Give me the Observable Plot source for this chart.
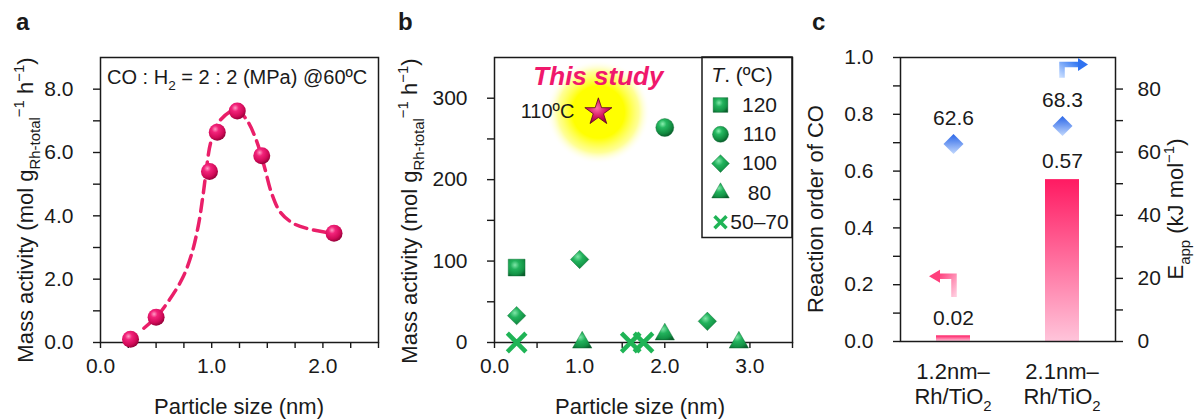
<!DOCTYPE html>
<html><head><meta charset="utf-8">
<script src="https://cdn.jsdelivr.net/npm/d3@7"></script>
<script src="https://cdn.jsdelivr.net/npm/@observablehq/plot@0.6"></script>
<style>
html,body{margin:0;padding:0;background:#fff}
#wrap{position:relative;width:1195px;height:419px;overflow:hidden;background:#fff}
#wrap > div{position:absolute;top:0}
svg{overflow:visible}
</style></head>
<body><div id="wrap"></div>
<script>
// ---------------- data ----------------
// panel a
const aSize = [0.27, 0.50, 0.98, 1.05, 1.23, 1.45, 2.10];
const aActivity = [0.10, 0.80, 5.40, 6.64, 7.31, 5.90, 3.45];
const aFitSize = [0.39, 0.50, 0.62, 0.74, 0.82, 0.88, 0.92, 0.95, 0.99, 1.06, 1.22, 1.32, 1.40, 1.47, 1.54, 1.62, 1.74, 1.88, 2.03];
const aFitActivity = [0.45, 0.80, 1.35, 2.05, 2.80, 3.70, 4.60, 5.40, 6.30, 6.95, 7.35, 7.00, 6.40, 5.60, 4.70, 4.10, 3.75, 3.58, 3.48];
const aXTicks = [0, 0.25, 0.5, 0.75, 1, 1.25, 1.5, 1.75, 2, 2.25, 2.5];
const aYTicks = [0, 1, 2, 3, 4, 5, 6, 7, 8];
const aNote = ["CO : H", {t: "2", sub: true}, " = 2 : 2 (MPa) @60ºC"];

// panel b
const bTemp = ["120", "100", "50–70", "100", "80", "50–70", "50–70", "80", "110", "100", "80"];
const bSize = [0.26, 0.26, 0.26, 1.00, 1.03, 1.60, 1.75, 2.00, 2.00, 2.50, 2.87];
const bActivity = [92, 33, 0, 102, 0, 0, 0, 10, 264, 26, 0];
const bLegendTemp = ["120", "110", "100", "80", "50–70"];
const bLegendSymbol = ["square", "circle", "diamond2", "triangle", "times"];
const studySize = [1.22];
const studyActivity = [283];
const studyLabel = ["110ºC"];
const studyTitle = "This study";
const bXTicks = [0, 0.5, 1, 1.5, 2, 2.5, 3, 3.5];
const bYTicks = [0, 50, 100, 150, 200, 250, 300];

// panel c
const cCatalyst = ["1.2nm–Rh/TiO2", "2.1nm–Rh/TiO2"];
const cCatalystLines = [["1.2nm–", ["Rh/TiO", {t: "2", sub: true}]], ["2.1nm–", ["Rh/TiO", {t: "2", sub: true}]]];
const cOrder = [0.02, 0.57];
const cEapp = [62.6, 68.3];
const cLeftTicks = [0, 0.1, 0.2, 0.3, 0.4, 0.5, 0.6, 0.7, 0.8, 0.9, 1.0];
const cRightTicks = [0, 10, 20, 30, 40, 50, 60, 70, 80];
const E_MAX = 90;

// ---------------- helpers ----------------
const FONT = "'Liberation Sans', Arial, Helvetica, sans-serif";
const INK = "#1a1a1a";
const PINK = "#ea1f69";
const GREEN_X = "#1fb456";
const wrap = document.getElementById("wrap");
const isInt = v => Math.abs(v - Math.round(v)) < 1e-9;
const baseStyle = {fontFamily: FONT, fontSize: "21px", color: INK, background: "transparent", overflow: "visible"};

function mount(node, left) {
  const d = document.createElement("div");
  d.style.left = left + "px";
  d.appendChild(node);
  wrap.appendChild(d);
  return node;
}
function defsOf(svg) {
  let d = d3.select(svg).select("defs.custom");
  if (d.empty()) d = d3.select(svg).insert("defs", ":first-child").attr("class", "custom");
  return d;
}
function addStops(g, stops) {
  for (const [o, c, op = 1] of stops) g.append("stop").attr("offset", o).attr("stop-color", c).attr("stop-opacity", op);
}
function radial(svg, id, stops, cx = 0.38, cy = 0.32, r = 0.72) {
  addStops(defsOf(svg).append("radialGradient").attr("id", id).attr("cx", cx).attr("cy", cy).attr("r", r), stops);
}
function linear(svg, id, stops, x1, y1, x2, y2) {
  addStops(defsOf(svg).append("linearGradient").attr("id", id)
    .attr("x1", x1).attr("y1", y1).attr("x2", x2).attr("y2", y2), stops);
}
function rich(svg, x, y, parts, o = {}) {
  const size = o.size ?? 22;
  const t = d3.select(svg).append("text")
    .attr("transform", `translate(${x},${y})` + (o.rotate ? ` rotate(${o.rotate})` : ""))
    .attr("text-anchor", o.anchor ?? "middle")
    .attr("font-family", FONT).attr("font-size", size)
    .attr("font-weight", o.weight ?? "normal")
    .attr("fill", o.fill ?? INK);
  let cur = 0;
  for (const p of parts) {
    const s = typeof p === "string" ? {t: p} : p;
    const target = s.sub ? 0.3 * size : s.sup ? -0.4 * size : 0;
    const ts = t.append("tspan").attr("font-size", (s.sub || s.sup) ? 0.68 * size : size).text(s.t);
    if (target !== cur) ts.attr("dy", target - cur);
    if (s.italic) ts.attr("font-style", "italic");
    cur = target;
  }
  return t;
}
const massTitle = ["Mass activity (mol g", {t: "Rh-total", sub: true}, {t: "−1", sup: true}, " h", {t: "−1", sup: true}, ")"];
const sizeTitle = ["Particle size (nm)"];

// ---------------- panel a ----------------
const aPoints = aSize.map((x, i) => ({x, y: aActivity[i]}));
const aFit = aFitSize.map((x, i) => ({x, y: aFitActivity[i]}));
const plotA = Plot.plot({
  width: 390, height: 419, marginLeft: 100, marginRight: 12, marginTop: 57, marginBottom: 77,
  style: baseStyle,
  x: {domain: [0, 2.5]},
  y: {domain: [0, 9]},
  marks: [
    Plot.axisX({ticks: aXTicks, tickFormat: d => isInt(d) ? d.toFixed(1) : "", tickSize: 6, tickPadding: 10, strokeWidth: 1.4, fontSize: 21, label: null}),
    Plot.axisY({ticks: aYTicks, tickFormat: d => d % 2 === 0 ? d.toFixed(1) : "", tickSize: 7, tickPadding: 20, strokeWidth: 1.4, fontSize: 21, label: null}),
    Plot.frame({stroke: INK, strokeWidth: 1.5}),
    Plot.line(aFit, {x: "x", y: "y", curve: "catmull-rom", stroke: PINK, strokeWidth: 3.5, strokeDasharray: "12,7"}),
    Plot.dot(aPoints, {x: "x", y: "y", r: 8.5, fill: "url(#gPinkSphere)"})
  ]
});
mount(plotA, 0);
radial(plotA, "gPinkSphere", [[0, "#ff9cc4"], [0.28, "#f2237a"], [0.7, "#d10a58"], [1, "#8c0035"]]);
rich(plotA, 33, 210, massTitle, {rotate: -90});
rich(plotA, 239, 414, sizeTitle);
rich(plotA, 107, 84, aNote, {anchor: "start", size: 20});
rich(plotA, 16, 30, ["a"], {anchor: "start", size: 24, weight: "bold"});

// ---------------- panel b ----------------
const bPoints = bSize.map((x, i) => ({x, y: bActivity[i], T: bTemp[i]}));
const symbolFor = Object.fromEntries(bLegendTemp.map((t, i) => [t, bLegendSymbol[i]]));
const chartR = {square: 9.5, circle: 9, diamond2: 8.3, triangle: 7.2, times: 8.5};
const legendR = {square: 8.3, circle: 8, diamond2: 8, triangle: 6.5, times: 5.5};
function symbolStyle(sym, r) {
  return sym === "times"
    ? {symbol: sym, r, fill: "none", stroke: GREEN_X, strokeWidth: r > 7 ? 4.5 : 3.5}
    : {symbol: sym, r, fill: sym === "circle" ? "url(#gGreenBall)" : "url(#gGreen)", stroke: "#0d6b32", strokeWidth: 0.4};
}
const study = studySize.map((x, i) => ({x, y: studyActivity[i], label: studyLabel[i]}));
const legendY0 = 47.5, legendGap = 29.3;
const plotB = Plot.plot({
  width: 410, height: 419, marginLeft: 104, marginRight: 8, marginTop: 57, marginBottom: 77,
  style: baseStyle,
  x: {domain: [0, 3.5]},
  y: {domain: [0, 350]},
  marks: [
    Plot.dot(study, {x: "x", y: "y", r: 52, fill: "url(#gGlow)"}),
    Plot.axisX({ticks: bXTicks, tickFormat: d => isInt(d) ? d.toFixed(1) : "", tickSize: 6, tickPadding: 10, strokeWidth: 1.4, fontSize: 21, label: null}),
    Plot.axisY({ticks: bYTicks, tickFormat: d => d % 100 === 0 ? String(d) : "", tickSize: 7, tickPadding: 20, strokeWidth: 1.4, fontSize: 21, label: null}),
    Plot.frame({stroke: INK, strokeWidth: 1.5}),
    ...bLegendTemp.map(t => Plot.dot(bPoints.filter(d => d.T === t), {x: "x", y: "y", ...symbolStyle(symbolFor[t], chartR[symbolFor[t]])})),
    Plot.dot(study, {x: "x", y: "y", symbol: "star", r: 8.5, fill: "url(#gStar)", stroke: "#5c0026", strokeWidth: 0.8}),
    Plot.text(study, {x: "x", y: "y", text: "label", dx: -24, textAnchor: "end", fontSize: 20, fill: INK}),
    Plot.text(study, {x: "x", y: "y", text: () => studyTitle, dy: -35, fontSize: 26, fontWeight: "bold", fontStyle: "italic", fill: "#f0186c"}),
    ...bLegendTemp.flatMap((t, i) => [
      Plot.dot([t], {frameAnchor: "top-right", dx: -72, dy: legendY0 + legendGap * i, ...symbolStyle(symbolFor[t], legendR[symbolFor[t]])}),
      Plot.text([t], {frameAnchor: "top-right", dx: -33, dy: legendY0 + legendGap * i, text: d => d, textAnchor: "middle", lineAnchor: "middle", fontSize: 21, fill: INK})
    ])
  ]
});
mount(plotB, 390);
radial(plotB, "gGreen", [[0, "#7fe6a8"], [0.35, "#22b25c"], [0.75, "#139245"], [1, "#0a5c2b"]], 0.4, 0.35, 0.75);
radial(plotB, "gGreenBall", [[0, "#8af0b0"], [0.3, "#25b860"], [0.75, "#11893f"], [1, "#0a5a2a"]], 0.38, 0.3, 0.72);
radial(plotB, "gStar", [[0, "#ff6aa6"], [0.5, "#d4165f"], [1, "#7a0030"]], 0.45, 0.4, 0.7);
radial(plotB, "gGlow", [[0, "#ffff00", 1], [0.5, "#ffff00", 1], [0.78, "#ffff40", 0.55], [1, "#ffffff", 0]], 0.5, 0.5, 0.5);
{
  const W = 410 - 8, T = 57;
  d3.select(plotB).append("rect").attr("x", W - 90).attr("y", T).attr("width", 90).attr("height", 180.5)
    .attr("fill", "none").attr("stroke", INK).attr("stroke-width", 1.5);
}
rich(plotB, 352, 82, [{t: "T", italic: true}, ". (ºC)"], {size: 21});
rich(plotB, 27, 211, massTitle, {rotate: -90});
rich(plotB, 250, 414, sizeTitle);
rich(plotB, 8, 30, ["b"], {anchor: "start", size: 24, weight: "bold"});

// ---------------- panel c ----------------
const cData = cCatalyst.map((c, i) => ({c, order: cOrder[i], E: cEapp[i]}));
const plotC = Plot.plot({
  width: 395, height: 419, marginLeft: 100, marginRight: 80, marginTop: 57, marginBottom: 78,
  style: baseStyle,
  x: {type: "band", domain: cCatalyst, paddingInner: 0.688, paddingOuter: 0.33, axis: null},
  y: {domain: [0, 1]},
  marks: [
    Plot.axisY({anchor: "left", ticks: cLeftTicks, tickFormat: d => isInt(d * 5) ? d.toFixed(1) : "", tickSize: 7, tickPadding: 20, strokeWidth: 1.4, fontSize: 21, label: null}),
    Plot.axisY({anchor: "right", ticks: cRightTicks.map(v => v / E_MAX), tickFormat: d => { const v = Math.round(d * E_MAX); return v % 20 === 0 ? String(v) : ""; }, tickSize: 7, tickPadding: 15, strokeWidth: 1.4, fontSize: 21, label: null}),
    Plot.barY(cData, {x: "c", y: "order", fill: "url(#gBar)"}),
    Plot.text(cData, {x: "c", y: "order", text: d => d.order.toFixed(2), dy: -18, fontSize: 21, fill: INK}),
    Plot.dot(cData, {x: "c", y: d => d.E / E_MAX, symbol: "diamond2", r: 9, fill: "url(#gBlue)"}),
    Plot.text(cData, {x: "c", y: d => d.E / E_MAX, text: d => d.E.toFixed(1), dy: -26, fontSize: 21, fill: INK}),
    Plot.frame({stroke: INK, strokeWidth: 1.5})
  ]
});
mount(plotC, 800);
linear(plotC, "gBar", [[0, "#ff1a62"], [1, "#ffc4da"]], 0, 0, 0, 1);
linear(plotC, "gBlue", [[0, "#2a66e8"], [1, "#c2d8fd"]], 0, 0, 0, 1);
linear(plotC, "gArrowPink", [[0, "#ffcadd"], [1, "#ff4a84"]], 1, 1, 0, 0);
linear(plotC, "gArrowBlue", [[0, "#c6dcff"], [1, "#3a7cf2"]], 0, 1, 1, 0);
{
  const sx = plotC.scale("x"), sy = plotC.scale("y");
  const band = d3.scaleBand(sx.domain, sx.range).paddingInner(0.688).paddingOuter(0.33);
  const X = c => (sx.apply ? sx.apply(c) : band(c)) + (sx.bandwidth ?? band.bandwidth()) / 2;
  const Y = v => sy.apply ? sy.apply(v) : d3.scaleLinear(sy.domain, sy.range)(v);
  const svg = d3.select(plotC);
  // arrow to the left axis (reaction order)
  const lx = X(cCatalyst[0]) + 1, lyB = Y(0.155), lyT = Y(0.228);
  svg.append("path").attr("d", `M${lx},${lyB}V${lyT}H${lx - 14}`).attr("fill", "none")
    .attr("stroke", "url(#gArrowPink)").attr("stroke-width", 5.5);
  svg.append("path").attr("d", `M${lx - 14},${lyT - 6.5}L${lx - 25},${lyT}L${lx - 14},${lyT + 6.5}Z`).attr("fill", "#ff3f7c");
  // arrow to the right axis (Eapp)
  const rx = X(cCatalyst[1]), ryB = Y(83.4 / E_MAX), ryT = Y(87.6 / E_MAX);
  svg.append("path").attr("d", `M${rx},${ryB}V${ryT}H${rx + 16}`).attr("fill", "none")
    .attr("stroke", "url(#gArrowBlue)").attr("stroke-width", 5.5);
  svg.append("path").attr("d", `M${rx + 16},${ryT - 6.5}L${rx + 26},${ryT}L${rx + 16},${ryT + 6.5}Z`).attr("fill", "#2f72f0");
  // category labels
  cCatalyst.forEach((c, i) => {
    rich(plotC, X(c), 379, [cCatalystLines[i][0]]);
    rich(plotC, X(c), 404, cCatalystLines[i][1]);
  });
}
rich(plotC, 23, 209, ["Reaction order of CO"], {rotate: -90});
rich(plotC, 383, 209, ["E", {t: "app", sub: true}, " (kJ mol", {t: "−1", sup: true}, ")"], {rotate: -90});
rich(plotC, 12, 30, ["c"], {anchor: "start", size: 24, weight: "bold"});
</script>
</body></html>
